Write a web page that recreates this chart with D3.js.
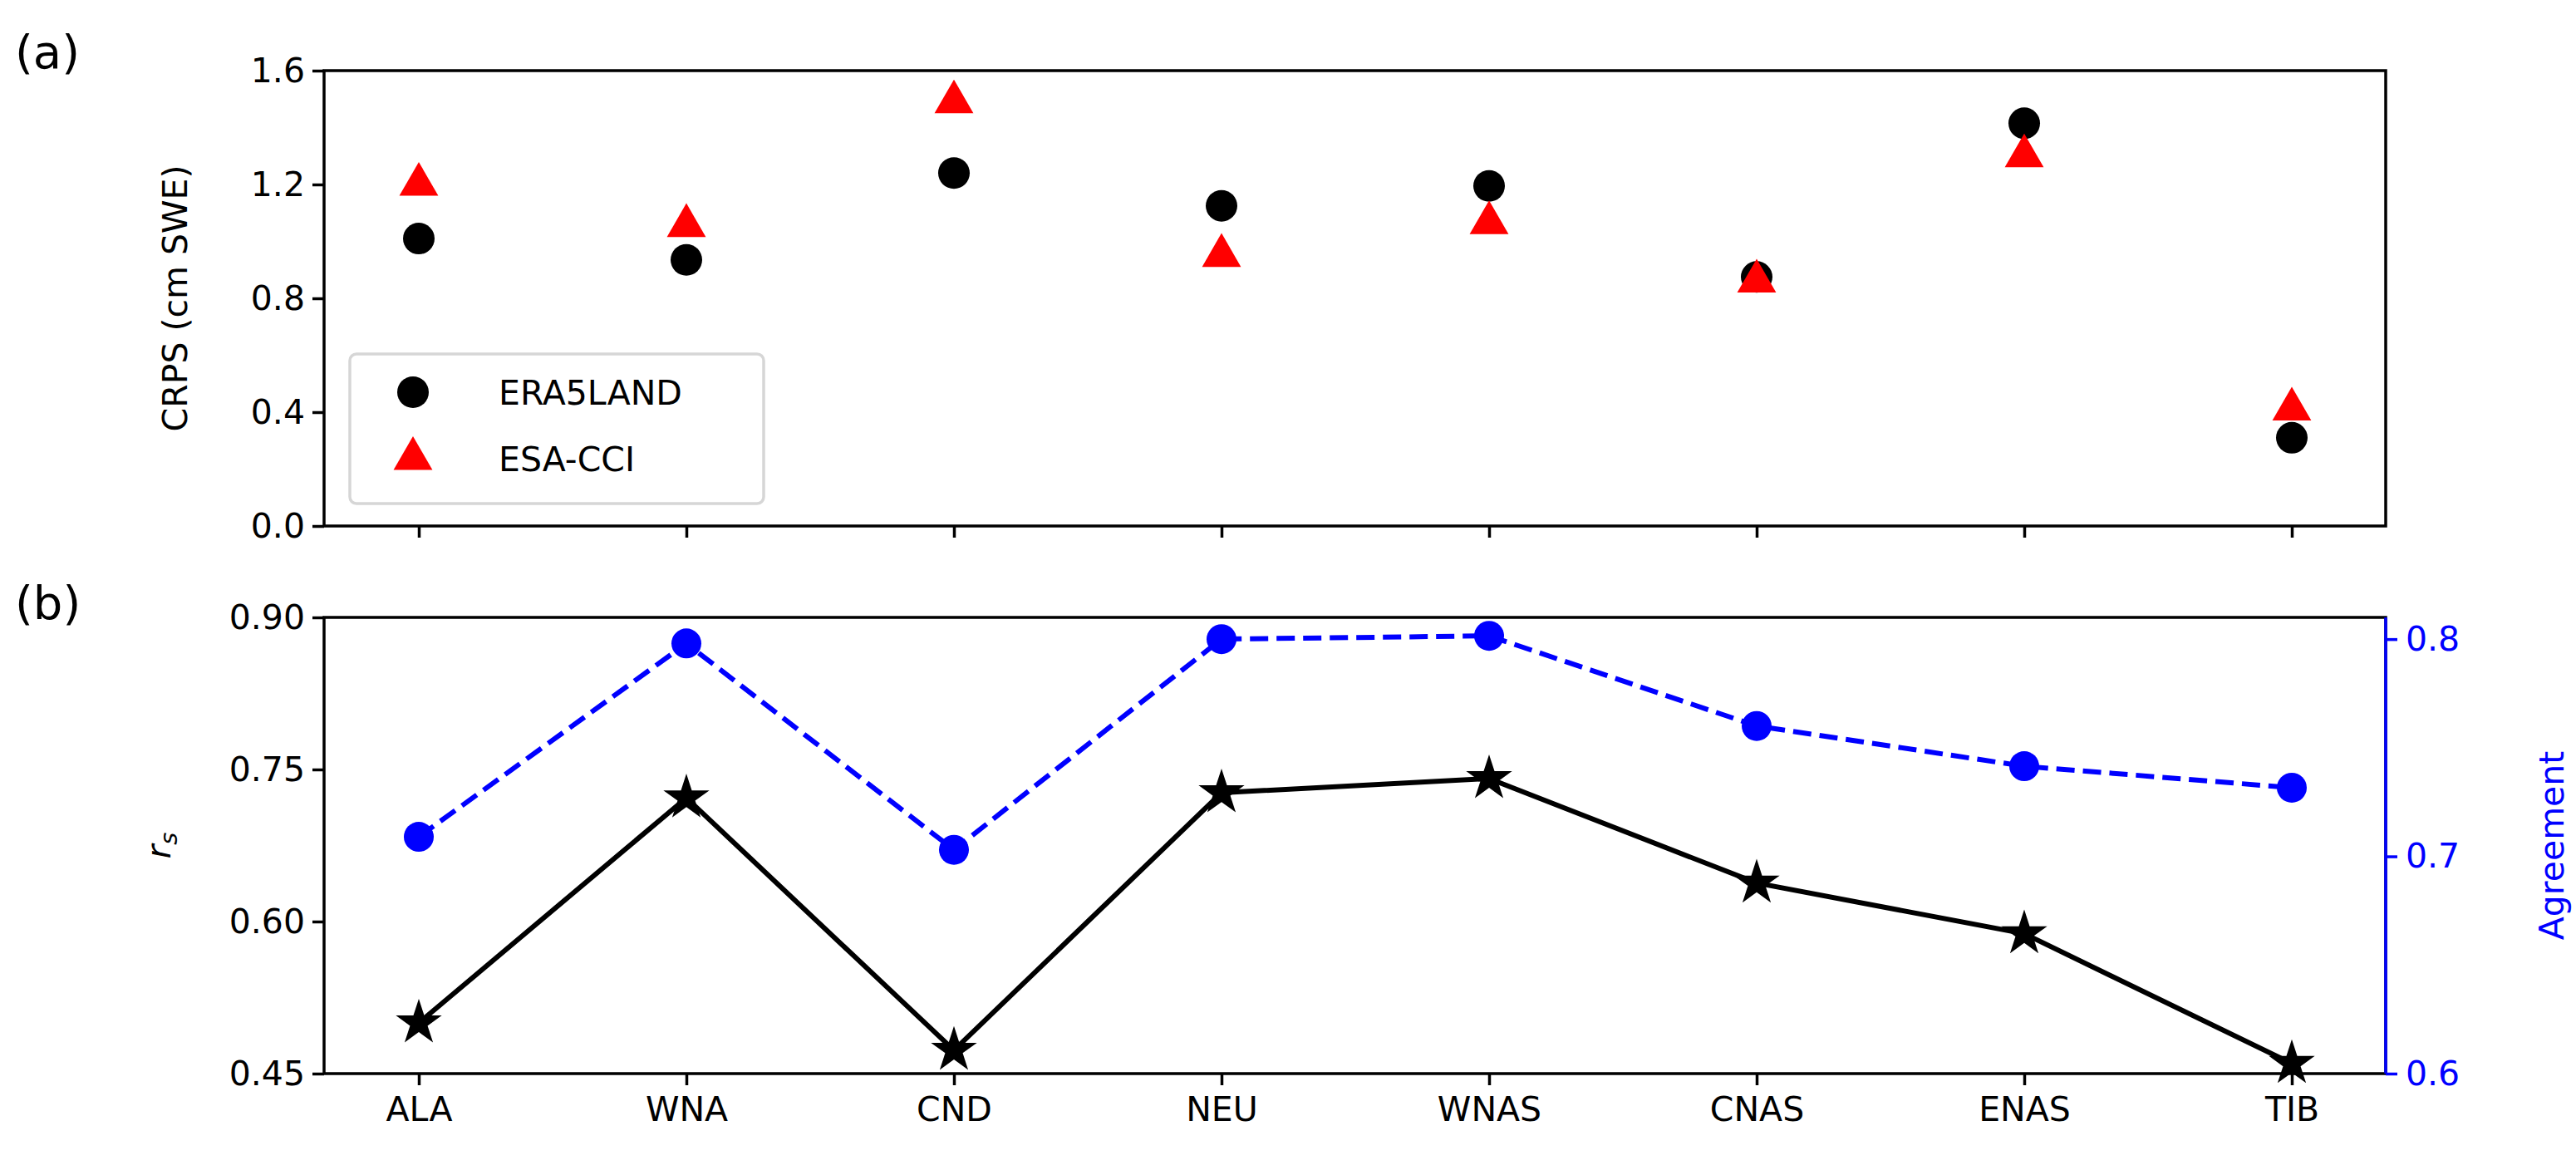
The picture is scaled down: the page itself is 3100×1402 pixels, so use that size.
<!DOCTYPE html>
<html><head><meta charset="utf-8">
<script src="https://cdn.jsdelivr.net/npm/d3@7"></script>
<style>body{margin:0;background:#fff}text{font-family:"DejaVu Sans"}</style>
</head><body><svg id="c" width="3100" height="1402"></svg>
<script>
const regions=["ALA","WNA","CND","NEU","WNAS","CNAS","ENAS","TIB"];
const crpsERA=[1.01,0.935,1.24,1.125,1.195,0.875,1.415,0.31];
const crpsESA=[1.20,1.055,1.49,0.95,1.065,0.86,1.30,0.41];
const rs=[0.50,0.722,0.473,0.727,0.741,0.638,0.588,0.46];
const agreement=[0.709,0.798,0.703,0.800,0.8015,0.760,0.7415,0.7316];
const crpsTicks=[0,0.4,0.8,1.2,1.6];
const rsTicks=[0.45,0.60,0.75,0.90];
const agTicks=[0.6,0.7,0.8];

const svg=d3.select("#c");
const L=390,R=2871;
const x=d3.scalePoint().domain(regions).range([504,2758]);
const ya=d3.scaleLinear().domain([0,1.6]).range([633,85]);
const yb=d3.scaleLinear().domain([0.45,0.90]).range([1292,743]);
const yc=d3.scaleLinear().domain([0.6,0.81]).range([1292,743]);
const FS=41;
function styleAxis(g,col){g.selectAll("path,line").attr("stroke",col).attr("stroke-width",3.5);
 g.selectAll("text").attr("font-size",FS).attr("fill",col).attr("font-family","DejaVu Sans");}
svg.append("rect").attr("x",L).attr("y",85).attr("width",R-L).attr("height",633-85).attr("fill","none").attr("stroke","#000").attr("stroke-width",3.5);
let g=svg.append("g").attr("transform",`translate(${L},0)`).call(d3.axisLeft(ya).tickValues(crpsTicks).tickFormat(d3.format(".1f")).tickSize(14).tickPadding(9));
styleAxis(g,"#000");g.select(".domain").remove();
g=svg.append("g").attr("transform",`translate(0,633)`).call(d3.axisBottom(x).tickSize(14).tickFormat(""));
styleAxis(g,"#000");g.select(".domain").remove();
svg.selectAll(".era").data(crpsERA).join("circle").attr("cx",(d,i)=>x(regions[i])).attr("cy",d=>ya(d)).attr("r",19).attr("fill","#000");
const tri=d3.symbol().type(d3.symbolTriangle).size(950);
svg.selectAll(".esa").data(crpsESA).join("path").attr("d",tri).attr("transform",(d,i)=>`translate(${x(regions[i])},${ya(d)})`).attr("fill","red");
svg.append("text").attr("transform","rotate(-90)").attr("x",-(85+633)/2).attr("y",225).attr("text-anchor","middle").attr("font-size",FS).text("CRPS (cm SWE)");
svg.append("rect").attr("x",421).attr("y",426).attr("width",498).attr("height",180).attr("rx",8).attr("fill","#fff").attr("fill-opacity",0.8).attr("stroke","#d6d6d6").attr("stroke-width",3.5);
svg.append("circle").attr("cx",497).attr("cy",472).attr("r",19).attr("fill","#000");
svg.append("path").attr("d",tri).attr("transform","translate(497,552)").attr("fill","red");
svg.append("text").attr("x",600).attr("y",487).attr("font-size",FS).text("ERA5LAND");
svg.append("text").attr("x",600).attr("y",567).attr("font-size",FS).text("ESA-CCI");
svg.append("text").attr("x",18).attr("y",82).attr("font-size",56).text("(a)");
svg.append("text").attr("x",18).attr("y",745).attr("font-size",56).text("(b)");
svg.append("rect").attr("x",L).attr("y",743).attr("width",R-L).attr("height",1292-743).attr("fill","none").attr("stroke","#000").attr("stroke-width",3.5);
g=svg.append("g").attr("transform",`translate(${L},0)`).call(d3.axisLeft(yb).tickValues(rsTicks).tickFormat(d3.format(".2f")).tickSize(14).tickPadding(9));
styleAxis(g,"#000");g.select(".domain").remove();
g=svg.append("g").attr("transform",`translate(0,1292)`).call(d3.axisBottom(x).tickSize(14).tickPadding(14));
styleAxis(g,"#000");g.select(".domain").remove();
g=svg.append("g").attr("transform",`translate(${R},0)`).call(d3.axisRight(yc).tickValues(agTicks).tickFormat(d3.format(".1f")).tickSize(14).tickPadding(10));
styleAxis(g,"blue");g.select(".domain").attr("d","M0,743V1292");
svg.append("text").attr("transform","rotate(-90)").attr("x",-(743+1292)/2).attr("y",205).attr("text-anchor","middle").attr("font-size",FS).attr("font-style","italic").html('r<tspan font-size="29" dy="8">s</tspan>');
svg.append("text").attr("transform","rotate(-90)").attr("x",-(743+1292)/2).attr("y",3085).attr("text-anchor","middle").attr("font-size",FS).attr("fill","blue").text("Agreement");
const la=d3.line().x((d,i)=>x(regions[i])).y(d=>yc(d));
svg.append("path").attr("d",la(agreement)).attr("fill","none").attr("stroke","blue").attr("stroke-width",6).attr("stroke-dasharray","22,10");
svg.selectAll(".ag").data(agreement).join("circle").attr("cx",(d,i)=>x(regions[i])).attr("cy",d=>yc(d)).attr("r",18).attr("fill","blue");
const lr=d3.line().x((d,i)=>x(regions[i])).y(d=>yb(d));
svg.append("path").attr("d",lr(rs)).attr("fill","none").attr("stroke","#000").attr("stroke-width",6);
const star=d3.symbol().type(d3.symbolStar).size(950);
svg.selectAll(".st").data(rs).join("path").attr("d",star).attr("transform",(d,i)=>`translate(${x(regions[i])},${yb(d)})`).attr("fill","#000");
</script></body></html>
